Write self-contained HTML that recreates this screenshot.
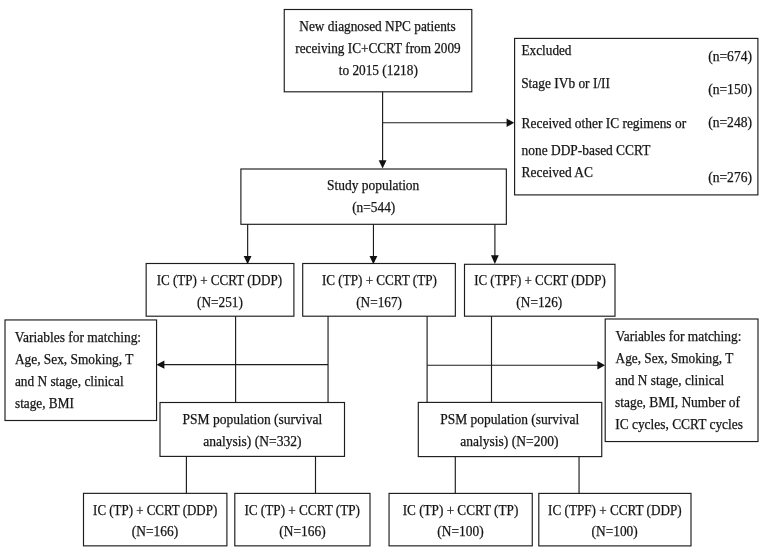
<!DOCTYPE html>
<html lang="en"><head><meta charset="utf-8"><title>Patient selection flow chart</title>
<style>html,body{margin:0;padding:0;background:#fff;}body{width:768px;height:554px;overflow:hidden;}svg{display:block;will-change:transform;}text{font-family:"Liberation Serif",serif;font-size:14.3px;fill:#151515;stroke:#151515;stroke-width:0.25px;white-space:pre;}</style>
</head><body>
<svg width="768" height="554" viewBox="0 0 768 554">
<rect width="768" height="554" fill="#fff"/>
<g fill="none" stroke="#1c1c1c" stroke-width="1.15">
<rect x="284.25" y="9.50" width="187.55" height="82.30"/>
<rect x="514.60" y="38.40" width="243.30" height="156.50"/>
<rect x="240.90" y="169.00" width="265.45" height="55.30"/>
<rect x="146.15" y="263.50" width="147.75" height="52.70"/>
<rect x="302.70" y="263.50" width="152.65" height="52.70"/>
<rect x="464.50" y="264.30" width="150.50" height="51.90"/>
<rect x="5.00" y="319.95" width="151.55" height="100.55"/>
<rect x="605.20" y="319.00" width="152.80" height="122.55"/>
<rect x="160.00" y="402.50" width="184.50" height="53.90"/>
<rect x="418.30" y="402.40" width="183.45" height="54.20"/>
<rect x="83.50" y="493.35" width="143.40" height="52.50"/>
<rect x="234.80" y="493.40" width="135.20" height="52.45"/>
<rect x="389.05" y="493.40" width="143.20" height="52.45"/>
<rect x="538.80" y="493.40" width="152.20" height="52.50"/>
<line x1="382.60" y1="91.80" x2="382.60" y2="161.00"/>
<line x1="382.60" y1="122.70" x2="507.00" y2="122.70"/>
<line x1="247.65" y1="224.30" x2="247.65" y2="257.00"/>
<line x1="373.45" y1="224.30" x2="373.45" y2="257.00"/>
<line x1="494.90" y1="224.30" x2="494.90" y2="256.00"/>
<line x1="235.60" y1="316.20" x2="235.60" y2="402.50"/>
<line x1="328.05" y1="316.20" x2="328.05" y2="402.50"/>
<line x1="427.10" y1="316.20" x2="427.10" y2="402.40"/>
<line x1="491.50" y1="316.20" x2="491.50" y2="402.40"/>
<line x1="328.05" y1="364.65" x2="164.00" y2="364.65"/>
<line x1="427.10" y1="365.20" x2="598.00" y2="365.20"/>
<line x1="186.40" y1="456.40" x2="186.40" y2="493.35"/>
<line x1="315.50" y1="456.40" x2="315.50" y2="493.35"/>
<line x1="455.30" y1="456.60" x2="455.30" y2="493.40"/>
<line x1="579.05" y1="456.60" x2="579.05" y2="493.40"/>
</g>
<g fill="#111" stroke="none">
<polygon points="382.60,168.60 378.70,160.20 386.50,160.20"/>
<polygon points="514.20,122.70 506.60,118.50 506.60,126.90"/>
<polygon points="247.60,264.30 243.70,256.10 251.50,256.10"/>
<polygon points="373.40,264.30 369.50,256.10 377.30,256.10"/>
<polygon points="494.85,263.90 490.95,255.30 498.75,255.30"/>
<polygon points="156.40,364.65 164.40,360.45 164.40,368.85"/>
<polygon points="605.00,365.20 597.40,361.00 597.40,369.40"/>
</g>
<g>
<text x="299.33" y="30.60" text-anchor="start" textLength="156.36" lengthAdjust="spacingAndGlyphs">New diagnosed NPC patients</text>
<text x="295.31" y="53.40" text-anchor="start" textLength="165.37" lengthAdjust="spacingAndGlyphs">receiving IC+CCRT from 2009</text>
<text x="338.71" y="75.00" text-anchor="start" textLength="79.14" lengthAdjust="spacingAndGlyphs">to 2015 (1218)</text>
<text x="521.52" y="55.25" text-anchor="start" textLength="49.98" lengthAdjust="spacingAndGlyphs">Excluded</text>
<text x="521.15" y="88.25" text-anchor="start" textLength="88.90" lengthAdjust="spacingAndGlyphs">Stage IVb or I/II</text>
<text x="521.61" y="127.75" text-anchor="start" textLength="164.50" lengthAdjust="spacingAndGlyphs">Received other IC regimens or</text>
<text x="521.62" y="154.50" text-anchor="start" textLength="128.71" lengthAdjust="spacingAndGlyphs">none DDP-based CCRT</text>
<text x="521.61" y="176.60" text-anchor="start" textLength="71.29" lengthAdjust="spacingAndGlyphs">Received AC</text>
<text x="708.17" y="61.35" text-anchor="start" textLength="43.82" lengthAdjust="spacingAndGlyphs">(n=674)</text>
<text x="708.17" y="93.90" text-anchor="start" textLength="43.82" lengthAdjust="spacingAndGlyphs">(n=150)</text>
<text x="708.17" y="127.40" text-anchor="start" textLength="43.82" lengthAdjust="spacingAndGlyphs">(n=248)</text>
<text x="708.17" y="182.40" text-anchor="start" textLength="43.82" lengthAdjust="spacingAndGlyphs">(n=276)</text>
<text x="327.07" y="190.00" text-anchor="start" textLength="92.27" lengthAdjust="spacingAndGlyphs">Study population</text>
<text x="352.16" y="212.25" text-anchor="start" textLength="43.09" lengthAdjust="spacingAndGlyphs">(n=544)</text>
<text x="156.69" y="284.60" text-anchor="start" textLength="125.31" lengthAdjust="spacingAndGlyphs">IC (TP) + CCRT (DDP)</text>
<text x="197.05" y="306.60" text-anchor="start" textLength="45.83" lengthAdjust="spacingAndGlyphs">(N=251)</text>
<text x="321.91" y="284.60" text-anchor="start" textLength="114.99" lengthAdjust="spacingAndGlyphs">IC (TP) + CCRT (TP)</text>
<text x="356.17" y="306.60" text-anchor="start" textLength="45.78" lengthAdjust="spacingAndGlyphs">(N=167)</text>
<text x="474.17" y="285.25" text-anchor="start" textLength="131.56" lengthAdjust="spacingAndGlyphs">IC (TPF) + CCRT (DDP)</text>
<text x="516.36" y="307.40" text-anchor="start" textLength="45.91" lengthAdjust="spacingAndGlyphs">(N=126)</text>
<text x="14.83" y="341.80" text-anchor="start" textLength="126.27" lengthAdjust="spacingAndGlyphs">Variables for matching:</text>
<text x="14.89" y="363.90" text-anchor="start" textLength="118.48" lengthAdjust="spacingAndGlyphs">Age, Sex, Smoking, T</text>
<text x="14.91" y="386.10" text-anchor="start" textLength="108.72" lengthAdjust="spacingAndGlyphs">and N stage, clinical</text>
<text x="15.00" y="408.00" text-anchor="start" textLength="58.83" lengthAdjust="spacingAndGlyphs">stage, BMI</text>
<text x="615.58" y="340.60" text-anchor="start" textLength="125.81" lengthAdjust="spacingAndGlyphs">Variables for matching:</text>
<text x="615.60" y="362.60" text-anchor="start" textLength="117.74" lengthAdjust="spacingAndGlyphs">Age, Sex, Smoking, T</text>
<text x="615.26" y="385.00" text-anchor="start" textLength="108.96" lengthAdjust="spacingAndGlyphs">and N stage, clinical</text>
<text x="615.00" y="407.35" text-anchor="start" textLength="125.00" lengthAdjust="spacingAndGlyphs">stage, BMI, Number of</text>
<text x="615.22" y="429.10" text-anchor="start" textLength="127.73" lengthAdjust="spacingAndGlyphs">IC cycles, CCRT cycles</text>
<text x="182.54" y="423.60" text-anchor="start" textLength="139.61" lengthAdjust="spacingAndGlyphs">PSM population (survival</text>
<text x="203.25" y="446.45" text-anchor="start" textLength="98.27" lengthAdjust="spacingAndGlyphs">analysis) (N=332)</text>
<text x="440.19" y="423.60" text-anchor="start" textLength="138.98" lengthAdjust="spacingAndGlyphs">PSM population (survival</text>
<text x="460.25" y="446.45" text-anchor="start" textLength="98.27" lengthAdjust="spacingAndGlyphs">analysis) (N=200)</text>
<text x="93.11" y="514.55" text-anchor="start" textLength="124.11" lengthAdjust="spacingAndGlyphs">IC (TP) + CCRT (DDP)</text>
<text x="131.78" y="536.20" text-anchor="start" textLength="46.44" lengthAdjust="spacingAndGlyphs">(N=166)</text>
<text x="244.38" y="514.55" text-anchor="start" textLength="115.59" lengthAdjust="spacingAndGlyphs">IC (TP) + CCRT (TP)</text>
<text x="279.37" y="536.20" text-anchor="start" textLength="46.29" lengthAdjust="spacingAndGlyphs">(N=166)</text>
<text x="402.68" y="514.55" text-anchor="start" textLength="115.60" lengthAdjust="spacingAndGlyphs">IC (TP) + CCRT (TP)</text>
<text x="437.37" y="536.20" text-anchor="start" textLength="46.29" lengthAdjust="spacingAndGlyphs">(N=100)</text>
<text x="548.10" y="514.55" text-anchor="start" textLength="133.51" lengthAdjust="spacingAndGlyphs">IC (TPF) + CCRT (DDP)</text>
<text x="591.52" y="536.20" text-anchor="start" textLength="46.21" lengthAdjust="spacingAndGlyphs">(N=100)</text>
</g>
</svg></body></html>
